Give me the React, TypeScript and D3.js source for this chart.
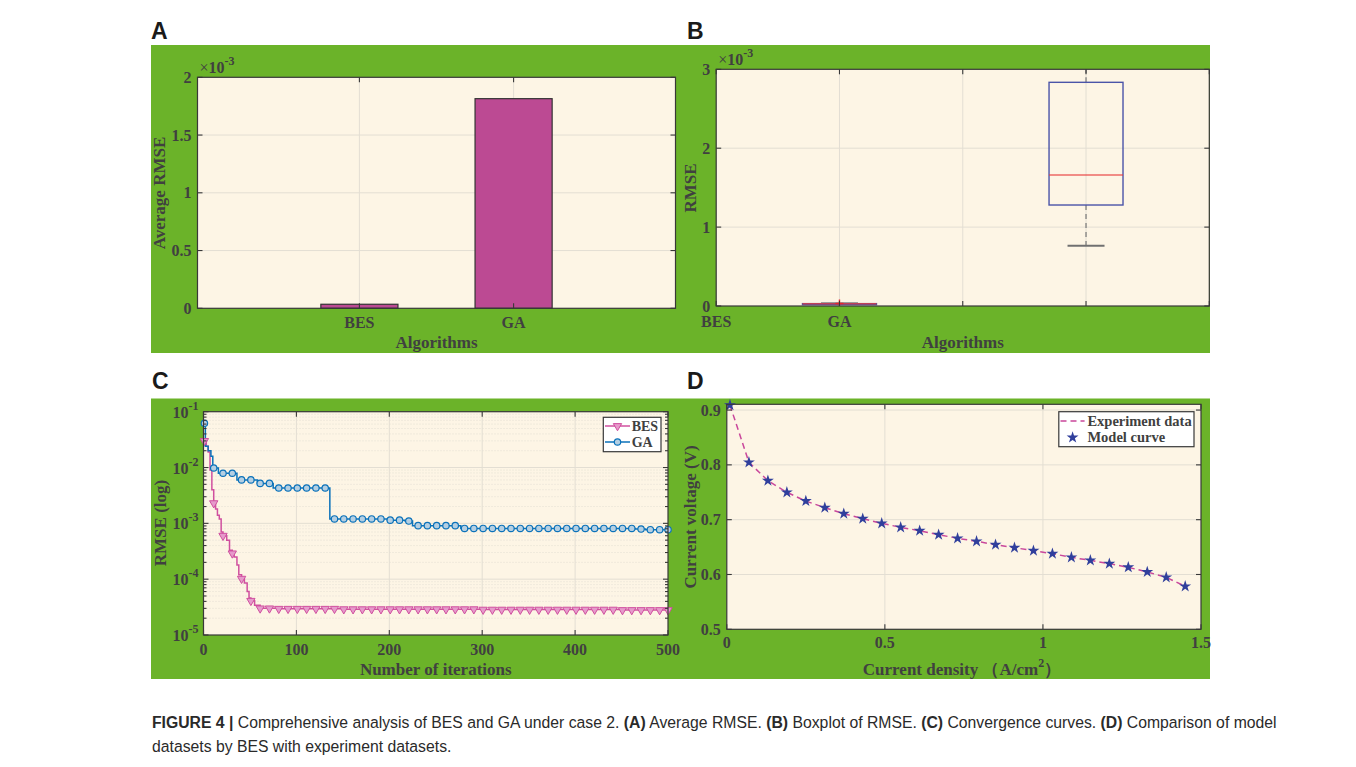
import React, { useLayoutEffect, useRef, useState } from 'react';
import * as d3 from 'd3';

// A: average RMSE per algorithm
const algorithms = ['BES', 'GA'];
const avgRmse = [3.5e-5, 1.815e-3];

// B: boxplot stats (position on x, quartiles, whiskers)
const boxTickLabels = ['BES', 'GA', '', '', ''];
const boxPos = [1, 3];
const boxLo = [2.7e-5, 0.764e-3];
const boxQ1 = [2.8e-5, 1.28e-3];
const boxMed = [2.9e-5, 1.66e-3];
const boxQ3 = [3.0e-5, 2.835e-3];
const boxHi = [3.1e-5, 3.05e-3];
const outlierPos = [1];
const outlierVal = [3.2e-5];

// C: convergence, value changes at these iterations
const besIter = [1, 3, 5, 7, 9, 11, 13, 15, 17, 19, 21, 25, 28, 31, 33, 36, 38, 41, 44, 47, 49, 51, 55, 61, 80, 150, 300, 450, 500];
const besRmse = [0.030, 0.024, 0.019, 0.009, 0.004, 0.0023, 0.0018, 0.0014, 0.0012, 0.0007, 0.0006, 0.0005, 0.00033, 0.00029, 0.00025, 0.00018, 0.00012, 0.000102, 8.5e-5, 6.0e-5, 4.6e-5, 4.1e-5, 3.4e-5, 3.0e-5, 2.95e-5, 2.9e-5, 2.85e-5, 2.8e-5, 2.8e-5];
const gaIter = [1, 2, 5, 8, 10, 16, 36, 58, 75, 136, 198, 217, 225, 277, 465, 476, 500];
const gaRmse = [0.062, 0.024, 0.020, 0.016, 0.0098, 0.0079, 0.0060, 0.0052, 0.0043, 0.0012, 0.00114, 0.0011, 0.00091, 0.00081, 0.00079, 0.00077, 0.00077];
const logTicks = [1e-5, 1e-4, 1e-3, 1e-2, 1e-1];
const logTickExp = ['-5', '-4', '-3', '-2', '-1'];
const iterTicks = [0, 100, 200, 300, 400, 500];

// D: polarisation curve
const density = [0.01, 0.07, 0.13, 0.19, 0.25, 0.31, 0.37, 0.43, 0.49, 0.55, 0.61, 0.67, 0.73, 0.79, 0.85, 0.91, 0.97, 1.03, 1.09, 1.15, 1.21, 1.27, 1.33, 1.39, 1.45];
const experimentV = [0.909, 0.8046, 0.7711, 0.7499, 0.734, 0.7219, 0.7109, 0.7018, 0.6933, 0.686, 0.6799, 0.6726, 0.666, 0.6605, 0.6544, 0.6489, 0.6435, 0.638, 0.6313, 0.6258, 0.6198, 0.6131, 0.6046, 0.5948, 0.5784];
const modelV = [0.909, 0.8046, 0.7711, 0.7499, 0.734, 0.7219, 0.7109, 0.7018, 0.6933, 0.686, 0.6799, 0.6726, 0.666, 0.6605, 0.6544, 0.6489, 0.6435, 0.638, 0.6313, 0.6258, 0.6198, 0.6131, 0.6046, 0.5948, 0.5784];
const densityTicks = [0, 0.5, 1, 1.5];
const voltTicks = [0.5, 0.6, 0.7, 0.8, 0.9];

const GREEN = '#6BB329';
const CREAM = '#FDF5E5';
const GRID = '#E3DED3';
const INK = '#404040';
const AXIS = '#383838';
const SERIF = '"Liberation Serif", "Times New Roman", serif';
const SANS = '"Liberation Sans", Arial, sans-serif';

const fmt = (v: number) => d3.format('~g')(v);

function Frame({ x0, x1, y0, y1 }: any) {
  return <rect x={x0} y={y0} width={x1 - x0} height={y1 - y0} fill={CREAM} />;
}
function Box({ x0, x1, y0, y1 }: any) {
  return <rect x={x0} y={y0} width={x1 - x0} height={y1 - y0} fill="none" stroke={AXIS} strokeWidth={1.2} />;
}
function TicksX({ xs, y0, y1, len = 5 }: any) {
  return (
    <g stroke={AXIS} strokeWidth={1.1}>
      {xs.map((x: number, i: number) => (
        <g key={i}>
          <line x1={x} x2={x} y1={y1} y2={y1 - len} />
          <line x1={x} x2={x} y1={y0} y2={y0 + len} />
        </g>
      ))}
    </g>
  );
}
function TicksY({ ys, x0, x1, len = 5 }: any) {
  return (
    <g stroke={AXIS} strokeWidth={1.1}>
      {ys.map((y: number, i: number) => (
        <g key={i}>
          <line y1={y} y2={y} x1={x0} x2={x0 + len} />
          <line y1={y} y2={y} x1={x1} x2={x1 - len} />
        </g>
      ))}
    </g>
  );
}
function YLabel({ x, y, text }: any) {
  return (
    <text transform={`translate(${x},${y}) rotate(-90)`} textAnchor="middle" dominantBaseline="central"
      fontFamily={SERIF} fontWeight="bold" fontSize={17} fill={INK}>{text}</text>
  );
}

function PanelA() {
  const x = d3.scaleLinear().domain([-0.05, 3.05]).range([197.5, 675.5]);
  const y = d3.scaleLinear().domain([0, 2e-3]).range([308.3, 77.3]);
  const yt = y.ticks(4);
  const [x0, x1] = x.range();
  const [y1, y0] = y.range();
  const bw = x(0.5) - x(0);
  return (
    <g>
      <Frame x0={x0} x1={x1} y0={y0} y1={y1} />
      <g stroke={GRID} strokeWidth={1}>
        {yt.slice(1, -1).map((t, i) => <line key={i} x1={x0} x2={x1} y1={y(t)} y2={y(t)} />)}
        {algorithms.map((a, i) => <line key={a} x1={x(i + 1)} x2={x(i + 1)} y1={y0} y2={y1} />)}
      </g>
      {algorithms.map((a, i) => (
        <rect key={a} x={x(i + 1) - bw / 2} width={bw} y={y(avgRmse[i])} height={y(0) - y(avgRmse[i])}
          fill="#BC4A93" stroke="#333" strokeWidth={1.2} />
      ))}
      <Box x0={x0} x1={x1} y0={y0} y1={y1} />
      <TicksX xs={algorithms.map((a, i) => x(i + 1))} y0={y0} y1={y1} />
      <TicksY ys={yt.map(t => y(t))} x0={x0} x1={x1} />
      <g fontFamily={SERIF} fontWeight="bold" fontSize={16} fill={INK}>
        {yt.map((t, i) => (
          <text key={i} x={x0 - 6} y={y(t)} textAnchor="end" dominantBaseline="central">{fmt(t * 1e3)}</text>
        ))}
        {algorithms.map((a, i) => (
          <text key={a} x={x(i + 1)} y={328} textAnchor="middle">{a}</text>
        ))}
        <text x={x0 + 2} y={73}><tspan fontWeight="normal">×</tspan>10<tspan dy={-8} fontSize={12}>-3</tspan></text>
        <text x={(x0 + x1) / 2} y={348} textAnchor="middle" fontSize={17}>Algorithms</text>
      </g>
      <YLabel x={159.6} y={193} text="Average RMSE" />
    </g>
  );
}

function PanelB() {
  const x = d3.scaleLinear().domain([0, 4]).range([716.2, 1209.3]);
  const y = d3.scaleLinear().domain([0, 3e-3]).range([306, 69.3]);
  const yt = y.ticks(3);
  const xt = d3.range(0, 5);
  const [x0, x1] = x.range();
  const [y1, y0] = y.range();
  const hw = x(0.3) - x(0);
  const cw = x(0.15) - x(0);
  return (
    <g>
      <defs>
        <clipPath id="clipB"><rect x={x0} y={y0} width={x1 - x0} height={y1 - y0} /></clipPath>
      </defs>
      <Frame x0={x0} x1={x1} y0={y0} y1={y1} />
      <g stroke={GRID} strokeWidth={1}>
        {yt.slice(1, -1).map((t, i) => <line key={i} x1={x0} x2={x1} y1={y(t)} y2={y(t)} />)}
        {xt.slice(1, -1).map((t, i) => <line key={i} x1={x(t)} x2={x(t)} y1={y0} y2={y1} />)}
      </g>
      <g clipPath="url(#clipB)">
        {boxPos.map((p, i) => (
          <g key={i}>
            <line x1={x(p)} x2={x(p)} y1={y(boxQ3[i])} y2={y(boxHi[i])} stroke="#777" strokeWidth={1.2} strokeDasharray="5,4" />
            <line x1={x(p)} x2={x(p)} y1={y(boxQ1[i])} y2={y(boxLo[i])} stroke="#777" strokeWidth={1.2} strokeDasharray="5,4" />
            <line x1={x(p) - cw} x2={x(p) + cw} y1={y(boxHi[i])} y2={y(boxHi[i])} stroke="#707070" strokeWidth={2} />
            <line x1={x(p) - cw} x2={x(p) + cw} y1={y(boxLo[i])} y2={y(boxLo[i])} stroke="#707070" strokeWidth={2} />
            <rect x={x(p) - hw} width={2 * hw} y={y(boxQ3[i])} height={Math.max(1, y(boxQ1[i]) - y(boxQ3[i]))}
              fill="none" stroke="#4A54A8" strokeWidth={1.4} />
            <line x1={x(p) - hw} x2={x(p) + hw} y1={y(boxMed[i])} y2={y(boxMed[i])} stroke="#E83A3A" strokeOpacity={0.75} strokeWidth={1.6} />
          </g>
        ))}
        {outlierPos.map((p, i) => (
          <path key={i} d={`M${x(p) - 4},${y(outlierVal[i])}h8M${x(p)},${y(outlierVal[i]) - 4}v8`} stroke="#E8262A" strokeWidth={1.4} />
        ))}
      </g>
      <Box x0={x0} x1={x1} y0={y0} y1={y1} />
      <TicksX xs={xt.map(t => x(t))} y0={y0} y1={y1} />
      <TicksY ys={yt.map(t => y(t))} x0={x0} x1={x1} />
      <g fontFamily={SERIF} fontWeight="bold" fontSize={16} fill={INK}>
        {yt.map((t, i) => (
          <text key={i} x={x0 - 6} y={y(t)} textAnchor="end" dominantBaseline="central">{fmt(t * 1e3)}</text>
        ))}
        {xt.map((t, i) => (
          <text key={i} x={x(t)} y={326.7} textAnchor="middle">{boxTickLabels[i]}</text>
        ))}
        <text x={x0 + 2} y={65}><tspan fontWeight="normal">×</tspan>10<tspan dy={-8} fontSize={12}>-3</tspan></text>
        <text x={(x0 + x1) / 2} y={348} textAnchor="middle" fontSize={17}>Algorithms</text>
      </g>
      <YLabel x={690.3} y={188} text="RMSE" />
    </g>
  );
}

const stepAt = (iters: number[], vals: number[], t: number) => {
  let v = vals[0];
  iters.forEach((it, i) => { if (it <= t) v = vals[i]; });
  return v;
};

function PanelC() {
  const x = d3.scaleLinear().domain([0, 500]).range([203.5, 668]);
  const y = d3.scaleLog().domain([1e-5, 1e-1]).range([635, 411.7]);
  const [x0, x1] = x.range();
  const [y1, y0] = y.range();
  const minor = y.ticks().filter(t => !logTicks.includes(t));
  const markIters = d3.range(1, 500, 10).concat([500]);
  const line = d3.line<number>().curve(d3.curveStepAfter);
  const besPath = line(besIter.map((it, i) => [x(it), y(besRmse[i])] as any));
  const gaPath = line(gaIter.map((it, i) => [x(it), y(gaRmse[i])] as any));
  const tri = d3.symbol(d3.symbolTriangle, 30)();
  const BES_C = '#D0509F';
  const GA_C = '#0B72BA';
  return (
    <g>
      <Frame x0={x0} x1={x1} y0={y0} y1={y1} />
      <g stroke={GRID} strokeWidth={1}>
        {minor.map((t, i) => <line key={'m' + i} x1={x0} x2={x1} y1={y(t)} y2={y(t)} strokeDasharray="1,2" />)}
        {logTicks.slice(1, -1).map((t, i) => <line key={i} x1={x0} x2={x1} y1={y(t)} y2={y(t)} />)}
        {iterTicks.slice(1, -1).map((t, i) => <line key={'x' + i} x1={x(t)} x2={x(t)} y1={y0} y2={y1} />)}
      </g>
      <path d={besPath!} fill="none" stroke={BES_C} strokeWidth={1.5} />
      <path d={gaPath!} fill="none" stroke={GA_C} strokeWidth={1.5} />
      {markIters.map(it => (
        <path key={'b' + it} d={tri!} transform={`translate(${x(it)},${y(stepAt(besIter, besRmse, it))}) rotate(180)`}
          fill="#E69ACB" stroke={BES_C} strokeWidth={1} />
      ))}
      {markIters.map(it => (
        <circle key={'g' + it} cx={x(it)} cy={y(stepAt(gaIter, gaRmse, it))} r={3.2}
          fill="#B5CFE2" stroke={GA_C} strokeWidth={1.2} />
      ))}
      <Box x0={x0} x1={x1} y0={y0} y1={y1} />
      <TicksX xs={iterTicks.map(t => x(t))} y0={y0} y1={y1} />
      <TicksY ys={logTicks.map(t => y(t))} x0={x0} x1={x1} />
      <TicksY ys={minor.map(t => y(t))} x0={x0} x1={x1} len={3} />
      <g fontFamily={SERIF} fontWeight="bold" fontSize={16} fill={INK}>
        {logTicks.map((t, i) => (
          <text key={i} x={x0 - 5} y={y(t) + 6} textAnchor="end">10<tspan dy={-8} fontSize={12}>{logTickExp[i]}</tspan></text>
        ))}
        {iterTicks.map((t, i) => (
          <text key={i} x={x(t)} y={655} textAnchor="middle">{t}</text>
        ))}
        <text x={(x0 + x1) / 2} y={675} textAnchor="middle" fontSize={17}>Number of iterations</text>
      </g>
      <YLabel x={160.7} y={523} text="RMSE (log)" />
      <g>
        <rect x={603.3} y={417.3} width={57.7} height={34.4} fill="#fff" stroke={AXIS} strokeWidth={1.2} />
        <line x1={605} x2={630} y1={426} y2={426} stroke={BES_C} strokeWidth={1.5} />
        <path d={tri!} transform={`translate(617.5,426) rotate(180)`} fill="#E69ACB" stroke={BES_C} strokeWidth={1} />
        <line x1={605} x2={630} y1={442} y2={442} stroke={GA_C} strokeWidth={1.5} />
        <circle cx={617.5} cy={442} r={3.2} fill="#B5CFE2" stroke={GA_C} strokeWidth={1.2} />
        <g fontFamily={SERIF} fontWeight="bold" fontSize={14} fill={INK}>
          <text x={631.7} y={431}>BES</text>
          <text x={631.7} y={447}>GA</text>
        </g>
      </g>
    </g>
  );
}

function PanelD() {
  const x = d3.scaleLinear().domain([0, 1.5]).range([726.8, 1201]);
  const y = d3.scaleLinear().domain([0.5, 0.9105]).range([629.3, 404.3]);
  const [x0, x1] = x.range();
  const [y1, y0] = y.range();
  const line = d3.line<number>().x((d, i) => x(density[i])).y(d => y(d));
  const star = d3.symbol(d3.symbolStar, 44)();
  const LINE_C = '#C9479B';
  const STAR_C = '#303F9C';
  return (
    <g>
      <Frame x0={x0} x1={x1} y0={y0} y1={y1} />
      <g stroke={GRID} strokeWidth={1}>
        {voltTicks.slice(1).map((t, i) => <line key={i} x1={x0} x2={x1} y1={y(t)} y2={y(t)} />)}
        {densityTicks.slice(1, -1).map((t, i) => <line key={'x' + i} x1={x(t)} x2={x(t)} y1={y0} y2={y1} />)}
      </g>
      <path d={line(experimentV)!} fill="none" stroke={LINE_C} strokeWidth={1.5} strokeDasharray="6,4" />
      {modelV.map((v, i) => (
        <path key={i} d={star!} transform={`translate(${x(density[i])},${y(v)})`} fill={STAR_C} />
      ))}
      <Box x0={x0} x1={x1} y0={y0} y1={y1} />
      <TicksX xs={densityTicks.map(t => x(t))} y0={y0} y1={y1} />
      <TicksY ys={voltTicks.map(t => y(t))} x0={x0} x1={x1} />
      <g fontFamily={SERIF} fontWeight="bold" fontSize={16} fill={INK}>
        {voltTicks.map((t, i) => (
          <text key={i} x={x0 - 6} y={y(t)} textAnchor="end" dominantBaseline="central">{fmt(t)}</text>
        ))}
        {densityTicks.map((t, i) => (
          <text key={i} x={x(t)} y={648.3} textAnchor="middle">{fmt(t)}</text>
        ))}
        <text x={962} y={675} textAnchor="middle" fontSize={17}>Current density （A/cm<tspan dy={-8} fontSize={12}>2</tspan><tspan dy={8}>）</tspan></text>
      </g>
      <YLabel x={690.3} y={517} text="Current voltage (V)" />
      <g>
        <rect x={1058.8} y={411.7} width={135.2} height={35} fill="#fff" stroke={AXIS} strokeWidth={1.2} />
        <line x1={1060.5} x2={1084.6} y1={421} y2={421} stroke={LINE_C} strokeWidth={1.5} strokeDasharray="6,4" />
        <path d={star!} transform="translate(1072.6,437.5)" fill={STAR_C} />
        <g fontFamily={SERIF} fontWeight="bold" fontSize={14.5} fill={INK}>
          <text x={1087.4} y={426}>Experiment data</text>
          <text x={1087.4} y={442}>Model curve</text>
        </g>
      </g>
    </g>
  );
}

// caption: first line is squeezed to the column width, second line uses the same squeeze
function Caption() {
  const first = useRef<SVGTextElement>(null);
  const [k, setK] = useState(1);
  useLayoutEffect(() => {
    if (first.current) {
      const w = first.current.getComputedTextLength();
      if (w > 0) setK(1126 / w);
    }
  }, []);
  return (
    <g fontFamily={SANS} fontSize={17} fill="#2a2a2a" transform={`translate(152,0) scale(${k},1)`}>
      <text ref={first} x={0} y={728}>
        <tspan fontWeight="bold">FIGURE 4 | </tspan>Comprehensive analysis of BES and GA under case 2. <tspan fontWeight="bold">(A)</tspan> Average RMSE. <tspan fontWeight="bold">(B)</tspan> Boxplot of RMSE. <tspan fontWeight="bold">(C)</tspan> Convergence curves. <tspan fontWeight="bold">(D)</tspan> Comparison of model
      </text>
      <text x={0} y={752}>datasets by BES with experiment datasets.</text>
    </g>
  );
}

export default function App() {
  return (
    <svg width={1356} height={767} style={{ position: 'absolute', left: 0, top: 0, background: '#fff' }}>
      <rect x={0} y={0} width={1356} height={767} fill="#fff" />
      <rect x={151} y={45} width={1059} height={308} fill={GREEN} />
      <rect x={151} y={398.5} width={1059} height={280.5} fill={GREEN} />
      <g fontFamily={SANS} fontWeight="bold" fontSize={23} fill="#1a1a1a">
        <text x={151} y={39}>A</text>
        <text x={687} y={38.5}>B</text>
        <text x={152} y={389}>C</text>
        <text x={687} y={389}>D</text>
      </g>
      <PanelA />
      <PanelB />
      <PanelC />
      <PanelD />
      <Caption />
    </svg>
  );
}
